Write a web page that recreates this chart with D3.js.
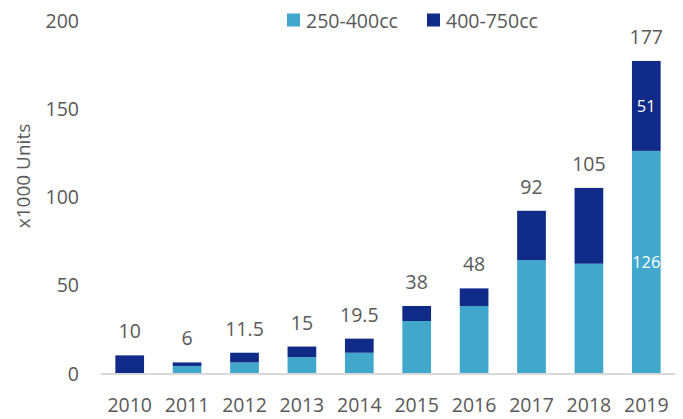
<!DOCTYPE html>
<html><head><meta charset="utf-8">
<script src="https://cdn.jsdelivr.net/npm/d3@7"></script>
<style>
html,body{margin:0;padding:0;background:#fff;}
text{font-family:"Open Sans","Noto Sans",sans-serif;fill:#595959;}
</style></head>
<body><svg id="c" width="683" height="419"></svg>
<script>
const years = ["2010","2011","2012","2013","2014","2015","2016","2017","2018","2019"];
const cc250_400 = [0, 4, 6, 9, 11.5, 29.5, 38, 64, 62, 126];
const cc400_750 = [10, 2, 5.5, 6, 8, 8.5, 10, 28, 43, 51];
const totalLabels = ["10","6","11.5","15","19.5","38","48","92","105","177"];
const yTicks = [0, 50, 100, 150, 200];
const seriesNames = ["250-400cc", "400-750cc"];
const colors = ["#41A8CC", "#0F2A87"];

const svg = d3.select("#c");
const x = d3.scaleBand().domain(years).range([101, 675]).paddingInner(0.5).paddingOuter(0.25);
const y = d3.scaleLinear().domain([0, 200]).range([373, 20.4]);

const rows = years.map((yr, i) => ({year: yr, a: cc250_400[i], b: cc400_750[i], label: totalLabels[i]}));
const stack = d3.stack().keys(["a", "b"])(rows);

// y tick labels
svg.append("g").selectAll("text").data(yTicks).join("text")
  .attr("x", 79).attr("y", d => y(d) + 7.5)
  .attr("text-anchor", "end").style("font-size", "19.5px").text(d => d);

// axis title
svg.append("text").attr("transform", "translate(23,176) rotate(-90)")
  .attr("text-anchor", "middle").attr("dy", "0.35em").style("font-size", "19px").text("x1000 Units");

// bars
svg.append("g").selectAll("g").data(stack).join("g")
  .attr("fill", (d, i) => colors[i])
  .selectAll("rect").data(d => d).join("rect")
  .attr("x", d => x(d.data.year)).attr("width", x.bandwidth())
  .attr("y", d => y(d[1])).attr("height", d => y(d[0]) - y(d[1]));

// x axis line
svg.append("line").attr("x1", 101).attr("x2", 675).attr("y1", y(0) + 1).attr("y2", y(0) + 1)
  .attr("stroke", "#D9D9D9").attr("stroke-width", 2);

// x labels
svg.append("g").selectAll("text").data(years).join("text")
  .attr("x", d => x(d) + x.bandwidth() / 2).attr("y", 411.5)
  .attr("text-anchor", "middle").style("font-size", "19.5px").text(d => d);

// total labels
svg.append("g").selectAll("text").data(rows).join("text")
  .attr("x", d => x(d.year) + x.bandwidth() / 2).attr("y", d => y(d.a + d.b) - 17)
  .attr("text-anchor", "middle").style("font-size", "19.5px").text(d => d.label);

// inside labels for 2019
const last = rows[rows.length - 1];
svg.append("text").attr("x", x(last.year) + x.bandwidth() / 2).attr("y", y(last.a / 2)).attr("dy", "0.35em")
  .attr("text-anchor", "middle").style("font-size", "16.5px").style("fill", "#fff").text(last.a);
svg.append("text").attr("x", x(last.year) + x.bandwidth() / 2).attr("y", y(last.a + last.b / 2)).attr("dy", "0.35em")
  .attr("text-anchor", "middle").style("font-size", "16.5px").style("fill", "#fff").text(last.b);

// legend
const leg = svg.append("g");
const legX = [287, 427];
seriesNames.forEach((n, i) => {
  leg.append("rect").attr("x", legX[i]).attr("y", 13.5).attr("width", 13).attr("height", 13).attr("fill", colors[i]);
  leg.append("text").attr("x", legX[i] + 19).attr("y", 28).style("font-size", "19.5px").text(n);
});
</script></body></html>
